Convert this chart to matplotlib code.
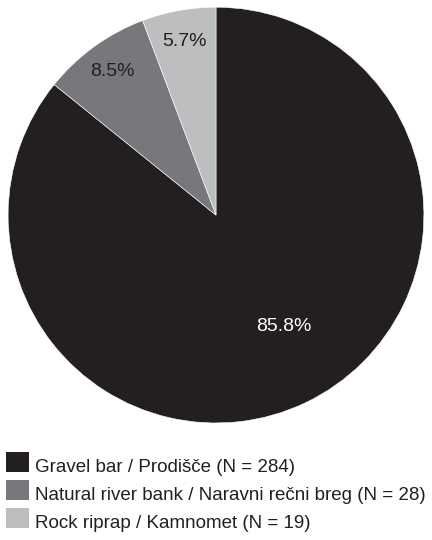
import matplotlib.pyplot as plt
from matplotlib.patches import Patch, Rectangle
from matplotlib.legend_handler import HandlerPatch

# Survey counts by habitat type
labels = ['Gravel bar / Prodišče (N = 284)',
          'Natural river bank / Naravni rečni breg (N = 28)',
          'Rock riprap / Kamnomet (N = 19)']
counts = [284, 28, 19]
colors = ['#231f20', '#77787b', '#bcbec0']
pct_colors = ['white', '#231f20', '#231f20']

plt.rcParams['font.family'] = ['Liberation Sans', 'DejaVu Sans']

fig = plt.figure(figsize=(4.32, 5.4), dpi=100)
ax = fig.add_axes([0.0185, 0.2167, 0.963, 0.770])

wedges, texts, autotexts = ax.pie(counts, colors=colors, startangle=90, counterclock=False,
                                  autopct='%1.1f%%', pctdistance=0.85, radius=1,
                                  wedgeprops=dict(edgecolor='white', linewidth=0.4),
                                  textprops=dict(fontsize=14))
for t, c in zip(autotexts, pct_colors):
    t.set_color(c)
# big slice label sits closer to the centre
autotexts[0].set_position((0.327, -0.534))

ax.set_xlim(-1, 1)
ax.set_ylim(-1, 1)
ax.set_aspect('equal')
ax.axis('off')


# square swatch whose bottom sits on the text baseline
def square_on_baseline(legend, orig_handle, xdescent, ydescent, width, height, fontsize):
    return Rectangle((-xdescent, 0), width, height)


handles = [Patch(facecolor=c, edgecolor='none') for c in colors]
fig.legend(handles, labels, loc='upper left', bbox_to_anchor=(6 / 432, 1 - 456 / 540),
           frameon=False, fontsize=13.5, handlelength=1.25, handleheight=1.25,
           labelspacing=0.4, handletextpad=0.28, borderpad=0, borderaxespad=0,
           labelcolor='#231f20',
           handler_map={Patch: HandlerPatch(patch_func=square_on_baseline)})

plt.savefig('out.png', dpi=100)
